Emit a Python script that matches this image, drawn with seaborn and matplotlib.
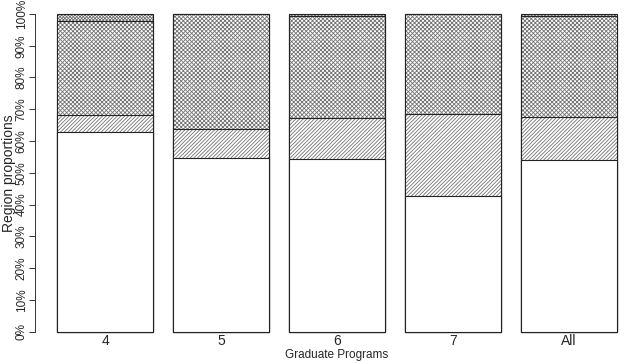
import matplotlib
matplotlib.use("Agg")
import matplotlib.pyplot as plt
import seaborn as sns
import pandas as pd
import numpy as np

programs = ["4", "5", "6", "7", "All"]
region_names = ["Region A", "Region B", "Region C", "Region D"]
# proportions (%) per program, bottom to top
region_a = [62.9, 54.7, 54.2, 42.8, 53.9]
region_b = [5.4, 9.0, 13.1, 25.6, 13.6]
region_c = [29.6, 36.3, 32.2, 31.6, 31.9]
region_d = [2.1, 0.0, 0.5, 0.0, 0.6]
yticks = [0, 10, 20, 30, 40, 50, 60, 70, 80, 90, 100]
ytick_labels = ["0%", "10%", "20%", "30%", "40%", "50%", "60%", "70%", "80%", "90%", "100%"]

sns.set_style("white")
plt.rcParams["font.family"] = ["Liberation Sans", "DejaVu Sans"]
plt.rcParams["hatch.linewidth"] = 0.6

layers = [region_a, region_b, region_c, region_d]
cum = np.cumsum(np.array(layers), axis=0)
hatches = ["", "/////////", "xxxxxxxx", "xxxxxxxxxx"]

fig = plt.figure(figsize=(6.4, 3.63), dpi=100)
ax = fig.add_axes([57 / 640, 31.5 / 363, 560 / 640, 317.5 / 363])

# draw from top layer down so lower cumulative bars overlay upper ones
for i in range(len(layers) - 1, -1, -1):
    df = pd.DataFrame({"program": programs, "value": cum[i]})
    n_before = len(ax.patches)
    sns.barplot(data=df, x="program", y="value", order=programs, ax=ax,
                color="white", edgecolor="#222222", linewidth=0.8,
                width=0.828, saturation=1)
    for p in ax.patches[n_before:]:
        p.set_hatch(hatches[i])
        p.set_facecolor("white")
        p._hatch_color = (0.45, 0.45, 0.45, 1.0)
        p.set_clip_on(False)

ax.set_xlim(-0.414, 4.414)
ax.set_ylim(0, 100)
for s in ["top", "right", "bottom"]:
    ax.spines[s].set_visible(False)
ax.spines["left"].set_position(("outward", 16))
ax.spines["left"].set_bounds(0, 100)
ax.spines["left"].set_linewidth(0.7)
ax.spines["left"].set_color("#333333")
ax.set_yticks(yticks)
ax.set_yticklabels(ytick_labels, rotation=90, va="center", fontsize=8.5)
ax.tick_params(axis="y", length=4, width=0.7, color="#333333", pad=1, left=True)
ax.tick_params(axis="x", length=0, pad=2, labelsize=10)
ax.set_xlabel("Graduate Programs", fontsize=8.5, va="center")
ax.xaxis.set_label_coords(0.5, -0.074)
ax.set_ylabel("Region proportions", fontsize=10, va="center")
ax.yaxis.set_label_coords(-48 / 560, 0.5)

fig.savefig("out.png", dpi=100)
